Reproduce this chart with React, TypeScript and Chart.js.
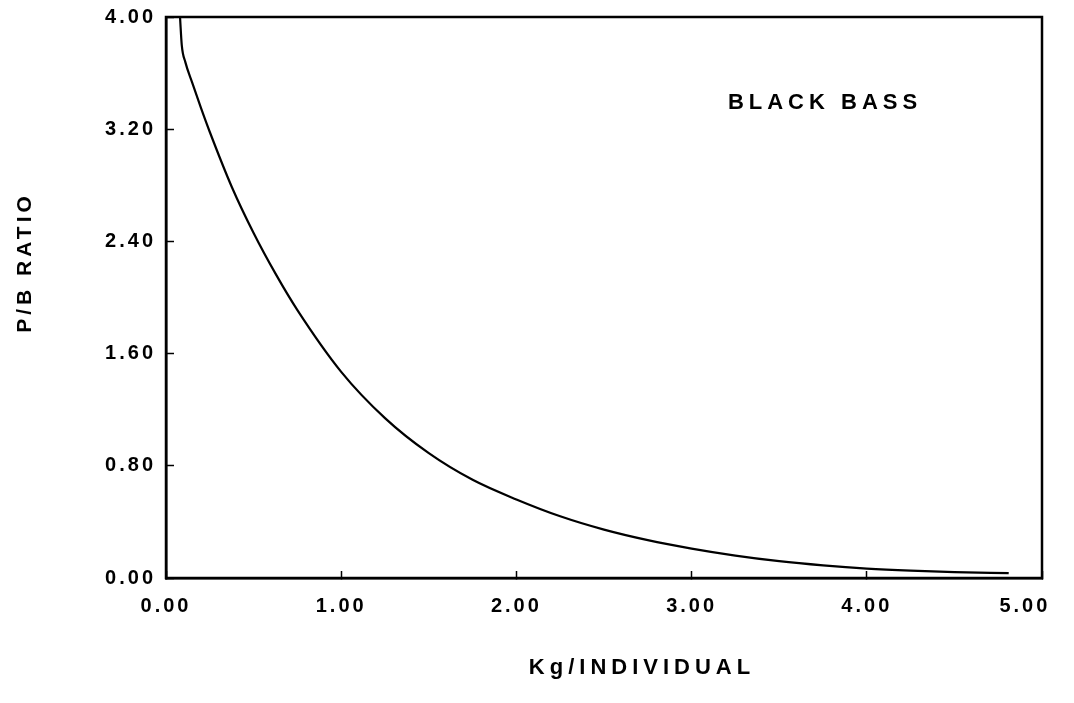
import React, { useEffect, useRef } from "react";
import { Chart, registerables } from "chart.js";
Chart.register(...registerables);

// Kg per individual (x) and P/B ratio (y)
const kgPerIndividual = [0.080, 0.090, 0.110, 0.150, 0.200, 0.250, 0.375, 0.500, 0.625, 0.750, 1.00, 1.25, 1.50, 1.75, 2.00, 2.25, 2.50, 2.75, 3.00, 3.25, 3.50, 3.75, 4.00, 4.25, 4.50, 4.81];
const pbRatio = [4.00, 3.80, 3.68, 3.53, 3.35, 3.18, 2.79, 2.46, 2.17, 1.91, 1.47, 1.14, 0.89, 0.70, 0.56, 0.44, 0.345, 0.27, 0.21, 0.16, 0.12, 0.09, 0.067, 0.052, 0.042, 0.035];

const xTicks = [0, 1, 2, 3, 4, 5];
const yTicks = [0, 0.8, 1.6, 2.4, 3.2, 4.0];
const xTitle = "Kg/INDIVIDUAL";
const yTitle = "P/B RATIO";
const annotationText = "BLACK BASS";
const annotationX = 3.75;
const annotationY = 3.39;

const FONT_FAMILY = '"Liberation Sans", Arial, sans-serif';
const NBSP = "\u00A0";

export default function App() {
  const ref = useRef<HTMLCanvasElement | null>(null);

  useEffect(() => {
    document.body.style.margin = "0";
    const canvas = ref.current;
    if (!canvas) return;

    const framePlugin = {
      id: "frame",
      beforeDraw(chart: any) {
        chart.ctx.letterSpacing = "3px";
      },
      afterDraw(chart: any) {
        const { ctx, chartArea: a, scales } = chart;
        ctx.save();
        ctx.strokeStyle = "#000";
        ctx.lineWidth = 2.5;
        ctx.strokeRect(a.left, a.top, a.right - a.left, a.bottom - a.top);
        ctx.fillStyle = "#000";
        ctx.font = `bold 22px ${FONT_FAMILY}`;
        ctx.letterSpacing = "5px";
        ctx.textAlign = "center";
        ctx.textBaseline = "middle";
        ctx.fillText(
          annotationText,
          scales.x.getPixelForValue(annotationX) + 2,
          scales.y.getPixelForValue(annotationY)
        );
        ctx.fillText(xTitle, (a.left + a.right) / 2 + 38, a.bottom + 90);
        ctx.font = `bold 21px ${FONT_FAMILY}`;
        ctx.letterSpacing = "4px";
        ctx.translate(25, (a.top + a.bottom) / 2 - 35);
        ctx.rotate(-Math.PI / 2);
        ctx.fillText(yTitle, 0, 0);
        ctx.restore();
        ctx.letterSpacing = "0px";
      },
    };

    const noPad = (s: any) => {
      s.paddingLeft = 0;
      s.paddingRight = 0;
      s.paddingTop = 0;
      s.paddingBottom = 0;
    };

    const chart = new Chart(canvas, {
      type: "line",
      data: {
        datasets: [
          {
            data: kgPerIndividual.map((x, i) => ({ x, y: pbRatio[i] })),
            borderColor: "#000",
            borderWidth: 2.2,
            pointRadius: 0,
            cubicInterpolationMode: "monotone",
            fill: false,
          },
        ],
      },
      options: {
        responsive: false,
        animation: false,
        devicePixelRatio: 1,
        layout: { padding: { top: 17, right: 32, left: 0, bottom: 0 } },
        plugins: { legend: { display: false }, tooltip: { enabled: false } },
        scales: {
          x: {
            type: "linear",
            min: 0,
            max: 5,
            afterBuildTicks: (s: any) => {
              s.ticks = xTicks.map((v) => ({ value: v }));
            },
            afterFit: (s: any) => {
              s.height = 125;
              noPad(s);
            },
            border: { display: true, color: "#000", width: 2.5 },
            grid: { drawOnChartArea: false, tickLength: -7, tickColor: "#000", tickWidth: 1.5 },
            ticks: {
              color: "#000",
              font: { family: FONT_FAMILY, size: 20, weight: "bold" },
              padding: 23,
              maxRotation: 0,
              callback: (v: any) =>
                Number(v) === 5 ? Number(v).toFixed(2) + NBSP.repeat(4) : Number(v).toFixed(2),
            },
          },
          y: {
            type: "linear",
            min: 0,
            max: 4,
            afterBuildTicks: (s: any) => {
              s.ticks = yTicks.map((v) => ({ value: v }));
            },
            afterFit: (s: any) => {
              s.width = 166;
              noPad(s);
            },
            border: { display: true, color: "#000", width: 2.5 },
            grid: { drawOnChartArea: false, tickLength: -8, tickColor: "#000", tickWidth: 1.5 },
            ticks: {
              color: "#000",
              font: { family: FONT_FAMILY, size: 20, weight: "bold" },
              padding: 18,
              callback: (v: any) => Number(v).toFixed(2),
            },
          },
        },
      },
      plugins: [framePlugin],
    } as any);

    return () => chart.destroy();
  }, []);

  return <canvas ref={ref} width={1074} height={703} style={{ display: "block" }} />;
}
